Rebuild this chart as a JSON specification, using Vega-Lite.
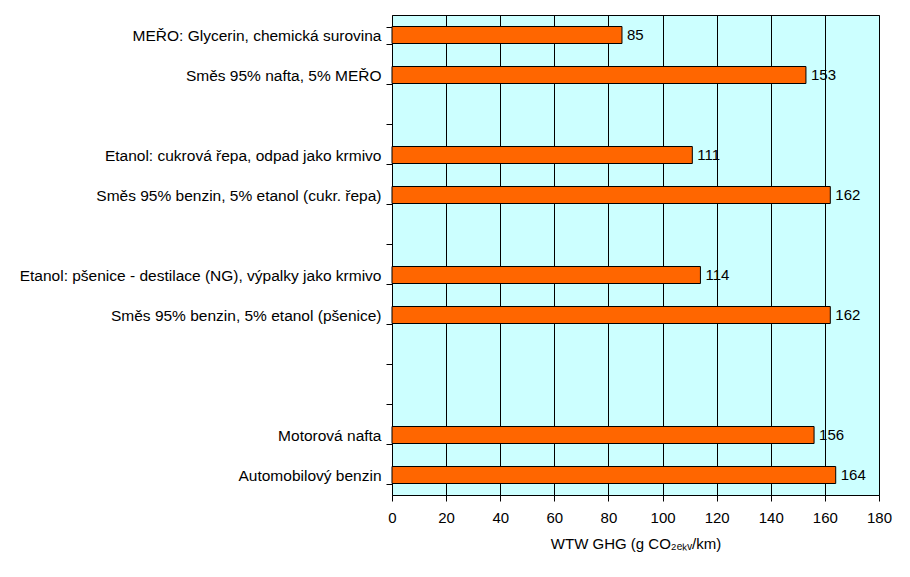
{
  "$schema": "https://vega.github.io/schema/vega-lite/v6.json",
  "width": 487,
  "height": 480,
  "autosize": "none",
  "padding": {"left": 392, "top": 15, "right": 31, "bottom": 82},
  "background": "white",
  "config": {
    "font": "Liberation Sans",
    "view": {"fill": "#CCFFFF", "stroke": "black", "strokeWidth": 1}
  },
  "data": {
    "values": [
      {"label": "MEŘO: Glycerin, chemická surovina", "value": 85},
      {"label": "Směs 95% nafta, 5% MEŘO", "value": 153},
      {"label": " ", "value": null},
      {"label": "Etanol: cukrová řepa, odpad jako krmivo", "value": 111},
      {"label": "Směs 95% benzin, 5% etanol (cukr. řepa)", "value": 162},
      {"label": "  ", "value": null},
      {"label": "Etanol: pšenice - destilace (NG), výpalky jako krmivo", "value": 114},
      {"label": "Směs 95% benzin, 5% etanol (pšenice)", "value": 162},
      {"label": "   ", "value": null},
      {"label": "    ", "value": null},
      {"label": "Motorová nafta", "value": 156},
      {"label": "Automobilový benzin", "value": 164}
    ]
  },
  "encoding": {
    "y": {
      "field": "label",
      "type": "nominal",
      "sort": null,
      "scale": {
        "domain": [
          "MEŘO: Glycerin, chemická surovina",
          "Směs 95% nafta, 5% MEŘO",
          " ",
          "Etanol: cukrová řepa, odpad jako krmivo",
          "Směs 95% benzin, 5% etanol (cukr. řepa)",
          "  ",
          "Etanol: pšenice - destilace (NG), výpalky jako krmivo",
          "Směs 95% benzin, 5% etanol (pšenice)",
          "   ",
          "    ",
          "Motorová nafta",
          "Automobilový benzin"
        ],
        "paddingInner": 0.575,
        "paddingOuter": 0.2875
      },
      "axis": {
        "title": null,
        "labelFontSize": 15.5,
        "labelLimit": 0,
        "labelColor": "black",
        "labelPadding": 5,
        "tickBand": "extent",
        "tickColor": "black",
        "tickSize": 6,
        "domain": false,
        "grid": false
      }
    },
    "x": {
      "field": "value",
      "type": "quantitative",
      "scale": {"domain": [0, 180], "nice": false},
      "axis": {
        "values": [0, 20, 40, 60, 80, 100, 120, 140, 160, 180],
        "title": "WTW GHG (g CO₂ₑₖᵥ/km)",
        "titleFontSize": 15,
        "titleFontWeight": "normal",
        "titleColor": "black",
        "titlePadding": 11,
        "labelFontSize": 15,
        "labelColor": "black",
        "labelPadding": 9,
        "labelFlush": false,
        "labelOverlap": false,
        "tickColor": "black",
        "tickSize": 6,
        "domain": false,
        "grid": true,
        "gridColor": "black",
        "gridOpacity": 1,
        "gridWidth": 1
      }
    }
  },
  "layer": [
    {
      "mark": {"type": "bar", "fill": "#FF6600", "stroke": "black", "strokeWidth": 1}
    },
    {
      "mark": {"type": "text", "align": "left", "baseline": "middle", "dx": 5, "fontSize": 15, "color": "black"},
      "encoding": {"text": {"field": "value", "type": "quantitative"}}
    }
  ]
}
